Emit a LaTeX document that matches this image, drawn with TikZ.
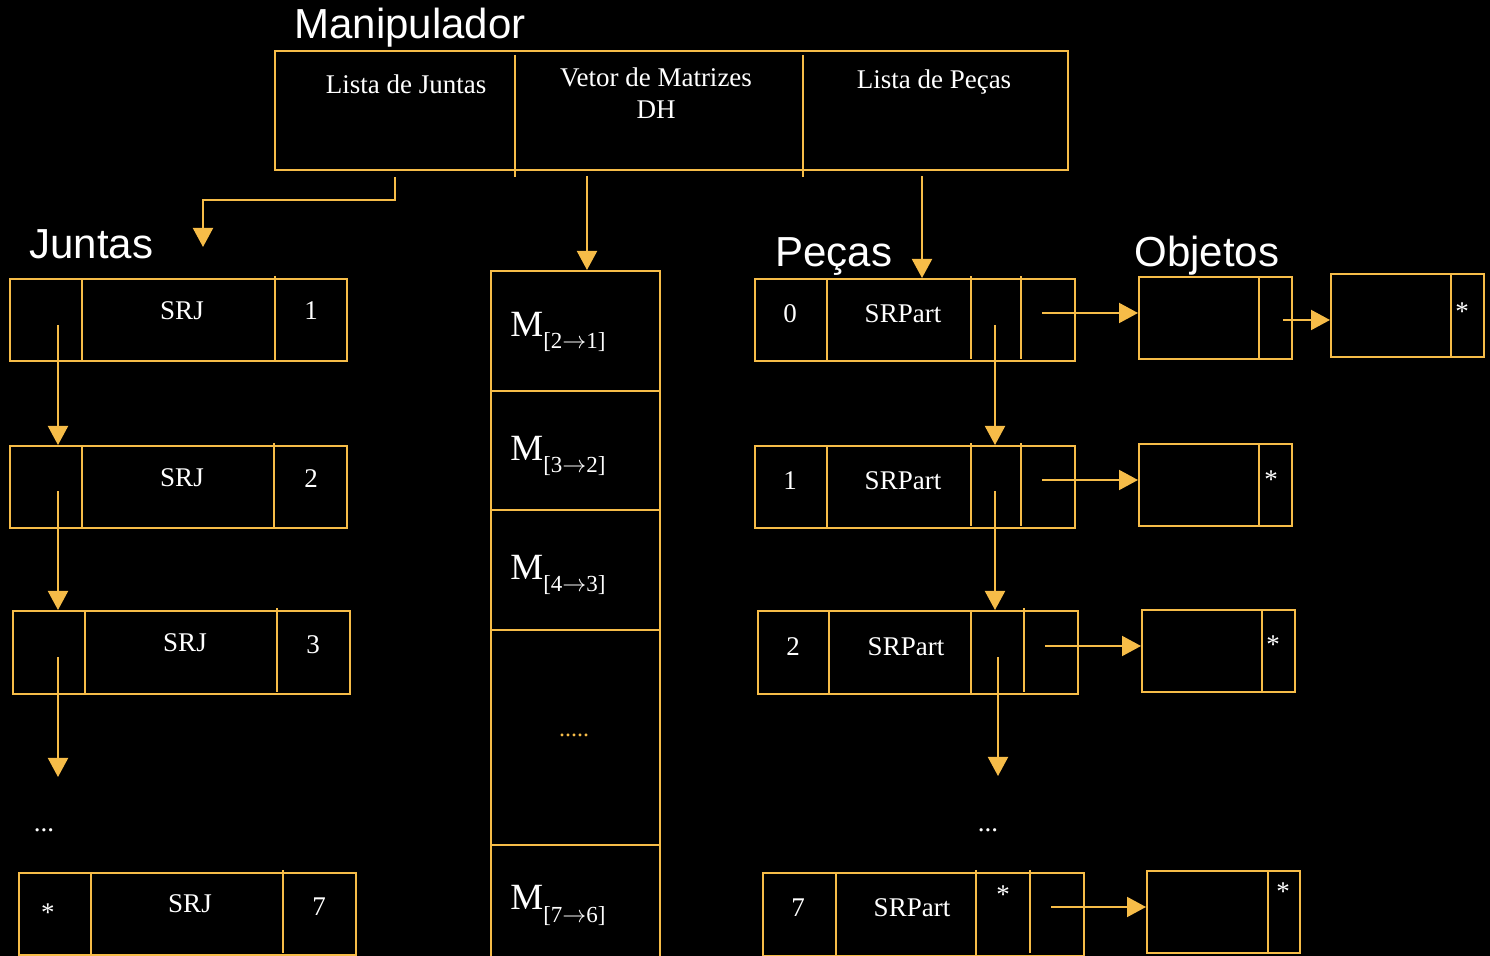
\documentclass[tikz,border=0pt]{standalone}
\usepackage{fontspec}
\setmainfont{Liberation Serif}
\newfontfamily\headfont{Liberation Sans}
\usetikzlibrary{arrows.meta, fit}

\definecolor{gold}{RGB}{246,188,72}

% matrix label with lowered index
\newcommand{\matsub}[2]{M\raisebox{-6pt}{\fontsize{11.5}{13}\selectfont[#1$\rightarrow$#2]}}

\tikzset{
  box/.style={draw=gold, line width=1pt, inner sep=0pt},
  sep/.style={draw=gold, line width=1pt},
  txt/.style={text=white, inner sep=0pt, font=\fontsize{13.5}{16}\selectfont},
  head/.style={text=white, inner sep=0pt, anchor=base west, font=\headfont\fontsize{21}{24}\selectfont},
  mtxt/.style={text=white, inner sep=0pt, anchor=base west, font=\fontsize{18.5}{20}\selectfont},
  link/.style={draw=gold, line width=1pt, -{Triangle[length=9.5pt, width=10pt]}}
}

\begin{document}
\begin{tikzpicture}[x=0.5pt, y=-0.5pt]
  \fill[black, use as bounding box] (0,0) rectangle (1490,956);

  % Manipulador
  \node[head] (manlbl) at (294,39) {Manipulador};
  \node[box, fit={(275,51) (1068,170)}] (man) {};
  \draw[sep] (515,55) -- (515,177);
  \draw[sep] (803,55) -- (803,177);
  \node[txt, anchor=base] (lj) at (406,94) {Lista de Juntas};
  \node[txt, anchor=base] (vm) at (656,87) {Vetor de Matrizes};
  \node[txt, anchor=base] (dh) at (656,119) {DH};
  \node[txt, anchor=base] (lp) at (934,89) {Lista de Peças};

  % section titles
  \node[head] (jlbl) at (29,259) {Juntas};
  \node[head] (plbl) at (775,267) {Peças};
  \node[head] (olbl) at (1134,267) {Objetos};

  % Juntas list
  \node[box, fit={(10,279) (347,361)}] (j1) {};
  \draw[sep] (82,279) -- (82,361);
  \draw[sep] (275,276) -- (275,361);
  \node[txt, anchor=base] (j1a) at (182,320) {SRJ};
  \node[txt, anchor=base] (j1b) at (311,320) {1};

  \node[box, fit={(10,446) (347,528)}] (j2) {};
  \draw[sep] (82,446) -- (82,528);
  \draw[sep] (274,443) -- (274,528);
  \node[txt, anchor=base] (j2a) at (182,487) {SRJ};
  \node[txt, anchor=base] (j2b) at (311,488) {2};

  \node[box, fit={(13,611) (350,694)}] (j3) {};
  \draw[sep] (85,611) -- (85,694);
  \draw[sep] (277,608) -- (277,692);
  \node[txt, anchor=base] (j3a) at (185,652) {SRJ};
  \node[txt, anchor=base] (j3b) at (313,654) {3};

  \node[txt] (jdots) at (44,830) {...};

  \node[box, fit={(19,873) (356,955)}] (j7) {};
  \draw[sep] (91,873) -- (91,955);
  \draw[sep] (283,870) -- (283,953);
  \node[txt] (j7s) at (48,913) {*};
  \node[txt, anchor=base] (j7a) at (190,913) {SRJ};
  \node[txt, anchor=base] (j7b) at (319,915) {7};

  % Vetor de matrizes
  \node[box, fit={(491,271) (660,391)}] (m1) {};
  \node[box, fit={(491,391) (660,510)}] (m2) {};
  \node[box, fit={(491,510) (660,630)}] (m3) {};
  \node[box, fit={(491,630) (660,845)}] (m4) {};
  \node[box, fit={(491,845) (660,970)}] (m5) {};
  \node[mtxt] (m1t) at (510,337) {\matsub{2}{1}};
  \node[mtxt] (m2t) at (510,461) {\matsub{3}{2}};
  \node[mtxt] (m3t) at (510,580) {\matsub{4}{3}};
  \node[mtxt] (m5t) at (510,910) {\matsub{7}{6}};
  \node[text=gold, inner sep=0pt, font=\fontsize{12}{14}\selectfont] (mdots) at (574,735) {.....};

  % Pecas list
  \node[box, fit={(755,279) (1075,361)}] (p0) {};
  \draw[sep] (827,279) -- (827,361);
  \draw[sep] (971,276) -- (971,359);
  \draw[sep] (1021,276) -- (1021,359);
  \node[txt, anchor=base] (p0a) at (790,323) {0};
  \node[txt, anchor=base] (p0b) at (903,323) {SRPart};

  \node[box, fit={(755,446) (1075,528)}] (p1) {};
  \draw[sep] (827,446) -- (827,528);
  \draw[sep] (971,443) -- (971,526);
  \draw[sep] (1021,443) -- (1021,526);
  \node[txt, anchor=base] (p1a) at (790,490) {1};
  \node[txt, anchor=base] (p1b) at (903,490) {SRPart};

  \node[box, fit={(758,611) (1078,694)}] (p2) {};
  \draw[sep] (829,611) -- (829,694);
  \draw[sep] (971,611) -- (971,694);
  \draw[sep] (1024,608) -- (1024,692);
  \node[txt, anchor=base] (p2a) at (793,656) {2};
  \node[txt, anchor=base] (p2b) at (906,656) {SRPart};

  \node[txt] (pdots) at (988,830) {...};

  \node[box, fit={(763,873) (1084,956)}] (p7) {};
  \draw[sep] (836,873) -- (836,956);
  \draw[sep] (976,870) -- (976,956);
  \draw[sep] (1030,870) -- (1030,953);
  \node[txt, anchor=base] (p7a) at (798,917) {7};
  \node[txt, anchor=base] (p7b) at (912,917) {SRPart};
  \node[txt] (p7s) at (1003,895) {*};

  % Objetos
  \node[box, fit={(1139,277) (1292,359)}] (o0) {};
  \draw[sep] (1259,277) -- (1259,359);
  \node[box, fit={(1331,274) (1484,357)}] (o0b) {};
  \draw[sep] (1451,274) -- (1451,357);
  \node[txt] (o0bs) at (1462,312) {*};

  \node[box, fit={(1139,444) (1292,526)}] (o1) {};
  \draw[sep] (1259,444) -- (1259,526);
  \node[txt] (o1s) at (1271,480) {*};

  \node[box, fit={(1142,610) (1295,692)}] (o2) {};
  \draw[sep] (1262,610) -- (1262,692);
  \node[txt] (o2s) at (1273,645) {*};

  \node[box, fit={(1147,871) (1300,953)}] (o7) {};
  \draw[sep] (1268,871) -- (1268,953);
  \node[txt] (o7s) at (1283,892) {*};

  % pointer origins and free ends
  \coordinate (ljo) at (395,177);
  \coordinate (vmo) at (587,176);
  \coordinate (lpo) at (922,176);
  \coordinate (jtip) at (203,247);
  \coordinate (jp1) at (58,325);
  \coordinate (jp2) at (58,491);
  \coordinate (jp3) at (58,657);
  \coordinate (jend) at (58,777);
  \coordinate (pd0) at (995,325);
  \coordinate (pd1) at (995,491);
  \coordinate (pd2) at (998,657);
  \coordinate (pend) at (998,776);
  \coordinate (pr0) at (1042,313);
  \coordinate (pr1) at (1042,480);
  \coordinate (pr2) at (1045,646);
  \coordinate (pr7) at (1051,907);
  \coordinate (or0) at (1283,320);

  % arrows from Manipulador
  \draw[link] (ljo) -- ++(0,23) -| (jtip);
  \draw[link] (vmo) -- (m1.north -| vmo);
  \draw[link] (lpo) -- (p0.north -| lpo);

  % Juntas chain
  \draw[link] (jp1) -- (j2.north -| jp1);
  \draw[link] (jp2) -- (j3.north -| jp2);
  \draw[link] (jp3) -- (jend);

  % Pecas chain
  \draw[link] (pd0) -- (p1.north -| pd0);
  \draw[link] (pd1) -- (p2.north -| pd1);
  \draw[link] (pd2) -- (pend);

  % Pecas to Objetos
  \draw[link] (pr0) -- (o0.west |- pr0);
  \draw[link] (or0) -- (o0b.west |- or0);
  \draw[link] (pr1) -- (o1.west |- pr1);
  \draw[link] (pr2) -- (o2.west |- pr2);
  \draw[link] (pr7) -- (o7.west |- pr7);
\end{tikzpicture}
\end{document}
